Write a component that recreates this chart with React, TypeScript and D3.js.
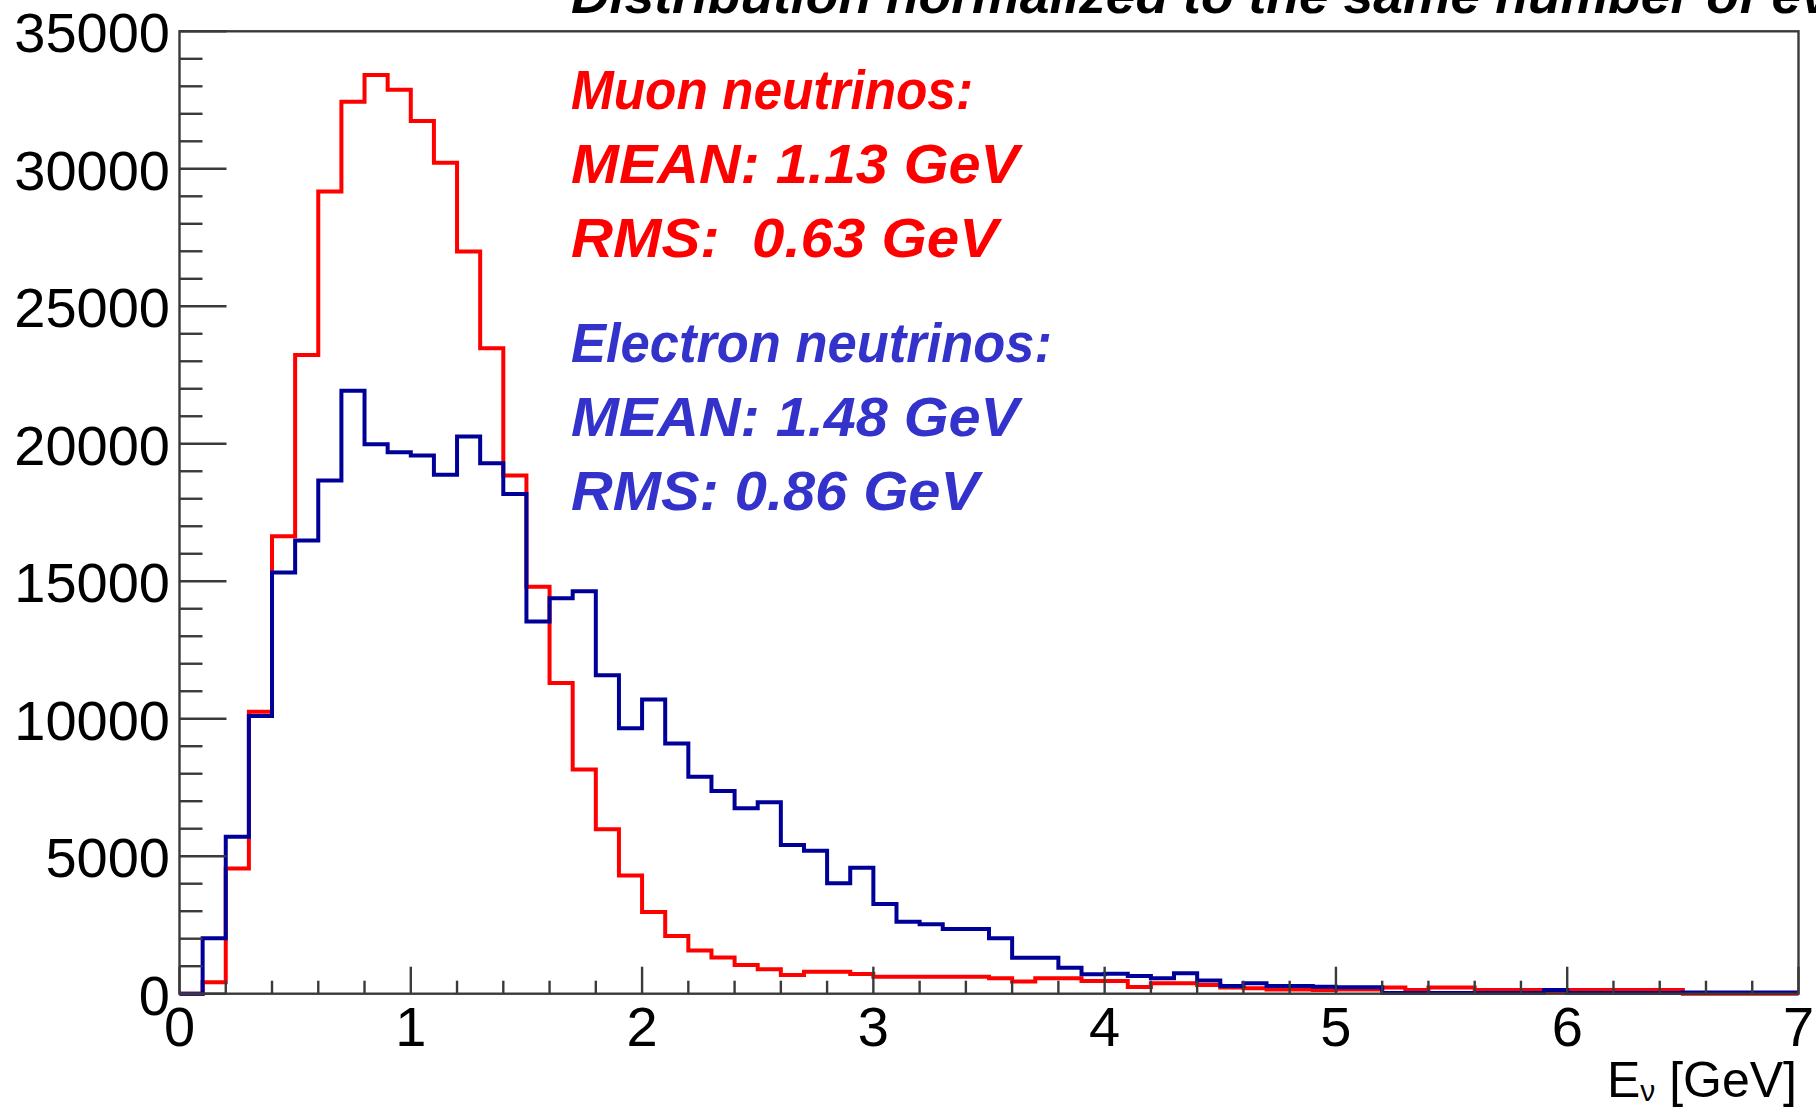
import { useEffect } from 'react';
import * as d3 from 'd3';

// bin lower edges (GeV), 0.1 GeV wide bins from 0 to 7
const binLow = d3.range(70).map(i => +(i * 0.1).toFixed(1));
const binWidth = 0.1;

const muonCounts = [
  0, 420, 4550, 10250, 16640, 23230, 29170, 32440, 33410, 32870,
  31740, 30220, 26990, 23470, 18850, 14800, 11300, 8150, 5980, 4300,
  2970, 2100, 1570, 1320, 1045, 885, 680, 800, 800, 720,
  620, 620, 620, 620, 620, 560, 440, 560, 560, 460,
  460, 240, 376, 376, 315, 230, 195, 157, 157, 135,
  150, 150, 230, 135, 230, 230, 135, 135, 135, 70,
  135, 135, 135, 135, 135, 0, 0, 0, 0, 0,
];

const electronCounts = [
  0, 2020, 5710, 10100, 15320, 16480, 18660, 21930, 19980, 19690,
  19570, 18870, 20260, 19290, 18170, 13540, 14380, 14640, 11580, 9650,
  10700, 9100, 7890, 7370, 6740, 6960, 5410, 5200, 4015, 4580,
  3260, 2620, 2530, 2350, 2350, 2015, 1310, 1310, 946, 710,
  730, 640, 560, 740, 480, 280, 376, 280, 280, 250,
  233, 233, 25, 25, 25, 25, 25, 25, 25, 135,
  25, 25, 25, 25, 25, 40, 40, 40, 40, 40,
];

const xTicks = [0, 1, 2, 3, 4, 5, 6, 7];
const yTicks = [0, 5000, 10000, 15000, 20000, 25000, 30000, 35000];

const titleText = 'Distribution normalized to the same number of events';
const muonLines = ['Muon neutrinos:', 'MEAN: 1.13 GeV', 'RMS:  0.63 GeV'];
const muonWidths = [402, 448, 427];
const electronLines = ['Electron neutrinos:', 'MEAN: 1.48 GeV', 'RMS: 0.86 GeV'];
const electronWidths = [481, 448, 408];

const W = 1816;
const H = 1108;
const left = 179.5, right = 1798.5, top = 31.3, bottom = 993.7;

const App = () => {
  useEffect(() => {
    document.body.style.margin = '0';
  }, []);

  const x = d3.scaleLinear().domain([0, 7]).range([left, right]);
  const y = d3.scaleLinear().domain([0, 35000]).range([bottom, top]);

  const stepLine = (counts: number[]) => {
    const pts: [number, number][] = [];
    counts.forEach((c, i) => {
      pts.push([binLow[i], c]);
      pts.push([binLow[i] + binWidth, c]);
    });
    return d3.line<[number, number]>()
      .x(d => x(d[0]))
      .y(d => y(d[1]))(pts) || '';
  };

  const yMinor = d3.range(0, 35001, 1000);
  const xMinor = d3.range(0, 7.001, 0.2);
  const font = '"Liberation Sans", Arial, sans-serif';
  const lineColor = '#3a3a3a';

  return (
    <svg width={W} height={H} style={{ display: 'block', background: '#fff' }}>
      {/* title, cut off at the top as in the original */}
      <text x={571} y={13} fontFamily={font} fontSize={52} fontStyle="italic"
        fontWeight="bold" fill="#000" textLength={1370} lengthAdjust="spacingAndGlyphs">{titleText}</text>

      {/* histograms */}
      <path d={stepLine(muonCounts)} fill="none" stroke="#ff0000" strokeWidth={4} />
      <path d={stepLine(electronCounts)} fill="none" stroke="#000099" strokeWidth={4} />

      {/* frame */}
      <rect x={left} y={top} width={right - left} height={bottom - top}
        fill="none" stroke={lineColor} strokeWidth={2.4} />

      {/* y ticks */}
      {yMinor.map(v => (
        <line key={'ym' + v} x1={left} x2={left + (v % 5000 === 0 ? 47 : 23)}
          y1={y(v)} y2={y(v)} stroke={lineColor} strokeWidth={2.4} />
      ))}
      {yTicks.map(v => (
        <text key={'yl' + v} x={170} y={y(v) + 21} textAnchor="end"
          fontFamily={font} fontSize={56} fill="#000">{v}</text>
      ))}

      {/* x ticks */}
      {xMinor.map(v => {
        const major = Math.abs(v - Math.round(v)) < 1e-6;
        return (
          <line key={'xm' + v.toFixed(1)} x1={x(v)} x2={x(v)} y1={bottom}
            y2={bottom - (major ? 27 : 13)} stroke={lineColor} strokeWidth={2.4} />
        );
      })}
      {xTicks.map(v => (
        <text key={'xl' + v} x={x(v)} y={1046} textAnchor="middle"
          fontFamily={font} fontSize={56} fill="#000">{v}</text>
      ))}

      {/* x axis title */}
      <text x={1797} y={1097} textAnchor="end" fontFamily={font} fontSize={50} fill="#000">
        E<tspan fontSize={30} dy={4}>ν</tspan><tspan dy={-4}> [GeV]</tspan>
      </text>

      {/* annotations */}
      {muonLines.map((t, i) => (
        <text key={'mu' + i} x={571} y={109 + i * 74} fontFamily={font} fontSize={56}
          fontStyle="italic" fontWeight="bold" fill="#ff0000" style={{ whiteSpace: 'pre' }}
          textLength={muonWidths[i]} lengthAdjust="spacingAndGlyphs">{t}</text>
      ))}
      {electronLines.map((t, i) => (
        <text key={'el' + i} x={571} y={362 + i * 74} fontFamily={font} fontSize={56}
          fontStyle="italic" fontWeight="bold" fill="#3333cc" style={{ whiteSpace: 'pre' }}
          textLength={electronWidths[i]} lengthAdjust="spacingAndGlyphs">{t}</text>
      ))}
    </svg>
  );
};

export default App;
